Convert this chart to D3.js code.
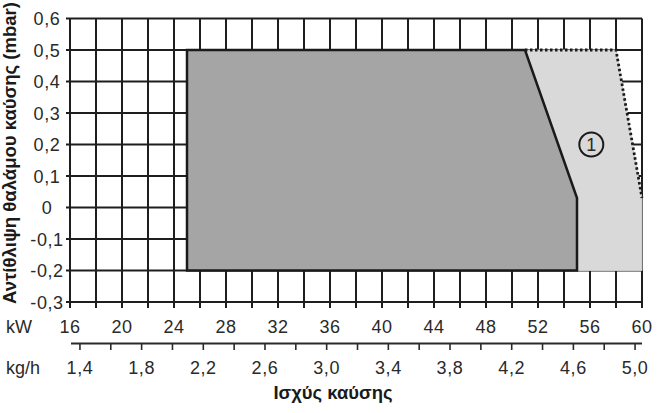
<!DOCTYPE html>
<html>
<head>
<meta charset="utf-8">
<script src="https://cdn.jsdelivr.net/npm/d3@7"></script>
<style>
  html, body { margin: 0; padding: 0; background: #fff; }
  svg { display: block; }
  text { font-family: "Liberation Sans", Arial, sans-serif; fill: #2a2a2a; }
</style>
</head>
<body>
<svg id="chart" width="657" height="413"></svg>
<script>
// ---- data ----
const kwTickLabels = [16, 20, 24, 28, 32, 36, 40, 44, 48, 52, 56, 60];
const kwGrid = [16, 18, 20, 22, 24, 26, 28, 30, 32, 34, 36, 38, 40, 42, 44, 46, 48, 50, 52, 54, 56, 58, 60];
const kghTickLabels = [1.4, 1.8, 2.2, 2.6, 3.0, 3.4, 3.8, 4.2, 4.6, 5.0];
const kghTicks = [1.4, 1.6, 1.8, 2.0, 2.2, 2.4, 2.6, 2.8, 3.0, 3.2, 3.4, 3.6, 3.8, 4.0, 4.2, 4.4, 4.6, 4.8, 5.0];
const yTicks = [0.6, 0.5, 0.4, 0.3, 0.2, 0.1, 0, -0.1, -0.2, -0.3];
// working range (kW, mbar)
const mainKW   = [25, 25, 51, 55, 55];
const mainMbar = [-0.2, 0.5, 0.5, 0.03, -0.2];
// extended range (1)
const extKW   = [51, 58, 60, 60, 55, 55];
const extMbar = [0.5, 0.5, 0.03, -0.2, -0.2, 0.03];
const markerLabel = { kw: 56.1, mbar: 0.2, text: "1" };
const yTitle = "Αντίθλιψη θαλάμου καύσης (mbar)";
const xTitle = "Ισχύς καύσης";

// ---- scales ----
const svg = d3.select("#chart");
const x = d3.scaleLinear().domain([16, 60]).range([70, 642]);
const y = d3.scaleLinear().domain([-0.3, 0.6]).range([302, 18.5]);
const xk = d3.scaleLinear().domain([1.3355, 5.045]).range([70, 642]);
const fmt = v => (v === 0 ? "0" : d3.format(".1f")(v).replace(".", ",").replace("−", "-"));

const gridColor = "#1e1e1e";

// grid
const grid = svg.append("g");
grid.selectAll("line.h").data(yTicks).join("line")
  .attr("x1", 66).attr("x2", x(60))
  .attr("y1", d => y(d)).attr("y2", d => y(d))
  .attr("stroke", gridColor).attr("stroke-width", 2);
grid.selectAll("line.v").data(kwGrid).join("line")
  .attr("x1", d => x(d)).attr("x2", d => x(d))
  .attr("y1", y(0.6)).attr("y2", y(-0.3) + 6)
  .attr("stroke", gridColor).attr("stroke-width", 2);

// areas
const pts = (ks, ms) => ks.map((k, i) => [x(k), y(ms[i])]);
const line = d3.line();
svg.append("path").attr("d", line(pts(extKW, extMbar)) + "Z")
  .attr("fill", "#d9d9d9").attr("stroke", "#c8c8c8").attr("stroke-width", 1);
svg.append("path").attr("d", line(pts(mainKW, mainMbar)) + "Z")
  .attr("fill", "#a5a5a5");
// main border
svg.append("path").attr("d", line(pts(mainKW, mainMbar)) + "Z")
  .attr("fill", "none").attr("stroke", "#1a1a1a").attr("stroke-width", 2.5)
  .attr("stroke-linejoin", "miter");
// dotted boundary of extended range
svg.append("path").attr("d", line(pts(extKW.slice(0, 3), extMbar.slice(0, 3))))
  .attr("fill", "none").attr("stroke", "#1a1a1a").attr("stroke-width", 2.8)
  .attr("stroke-dasharray", "2.5,2.5");

// circled label
svg.append("circle").attr("cx", x(markerLabel.kw)).attr("cy", y(markerLabel.mbar)).attr("r", 12)
  .attr("fill", "none").attr("stroke", "#1a1a1a").attr("stroke-width", 2);
svg.append("text").attr("x", x(markerLabel.kw)).attr("y", y(markerLabel.mbar) + 6.5)
  .attr("text-anchor", "middle").style("font-size", "18px").text(markerLabel.text);

// y tick labels
svg.append("g").selectAll("text").data(yTicks).join("text")
  .attr("x", 47).attr("y", d => y(d) + 6.5)
  .attr("text-anchor", "middle").style("font-size", "18px").style("letter-spacing", "0.6px")
  .text(fmt);

// kW labels
svg.append("text").attr("x", 6).attr("y", 333).style("font-size", "18px").text("kW");
svg.append("g").selectAll("text").data(kwTickLabels).join("text")
  .attr("x", d => x(d)).attr("y", 333)
  .attr("text-anchor", "middle").style("font-size", "18px").style("letter-spacing", "0.6px")
  .text(d => d);

// kg/h axis
const kgAxis = svg.append("g");
kgAxis.append("line").attr("x1", 71).attr("x2", 642).attr("y1", 343.5).attr("y2", 343.5)
  .attr("stroke", "#2a2a2a").attr("stroke-width", 2);
kgAxis.selectAll("line.t").data(kghTicks).join("line")
  .attr("x1", d => xk(d)).attr("x2", d => xk(d)).attr("y1", 343.5).attr("y2", 350)
  .attr("stroke", "#2a2a2a").attr("stroke-width", 1.6);
svg.append("text").attr("x", 6).attr("y", 374).style("font-size", "18px").text("kg/h");
svg.append("g").selectAll("text").data(kghTickLabels).join("text")
  .attr("x", d => xk(d)).attr("y", 374)
  .attr("text-anchor", "middle").style("font-size", "18px").style("letter-spacing", "0.6px")
  .text(d => d3.format(".1f")(d).replace(".", ","));

// titles
const xt = svg.append("text").attr("x", 333).attr("y", 399)
  .attr("text-anchor", "middle").style("font-size", "16px").style("font-weight", "bold")
  .style("fill", "#1a1a1a").text(xTitle);
const yt = svg.append("text").attr("transform", "translate(16,153) rotate(-90)")
  .attr("text-anchor", "middle").style("font-size", "15px").style("font-weight", "bold")
  .style("fill", "#1a1a1a").text(yTitle);
// fit title widths to reference extents
const fit = (el, target) => {
  const w = el.node().getComputedTextLength();
  const fs = parseFloat(el.style("font-size"));
  el.style("font-size", (fs * target / w).toFixed(2) + "px");
};
fit(yt, 302);
fit(xt, 119);
</script>
</body>
</html>
